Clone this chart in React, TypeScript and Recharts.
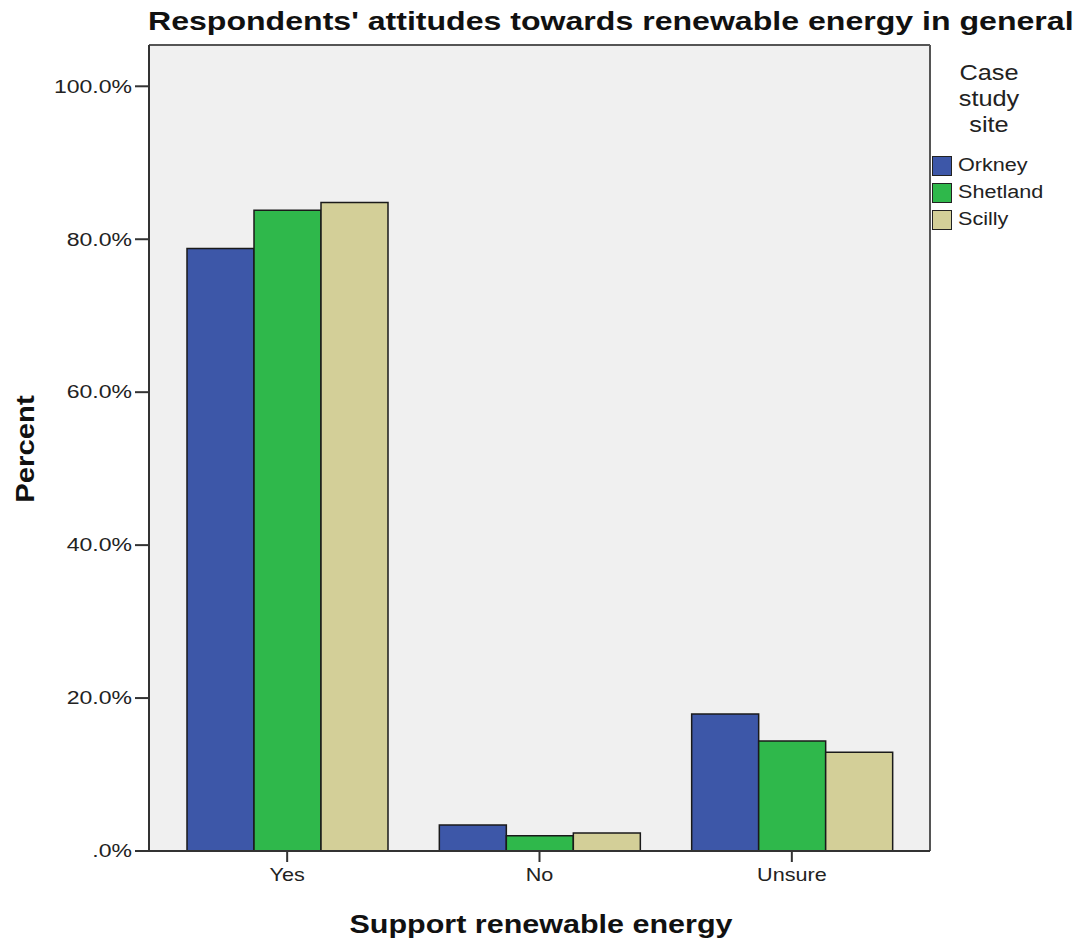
import React from "react";
import { BarChart, Bar, XAxis, YAxis, CartesianGrid } from "recharts";

const categories = ["Yes", "No", "Unsure"];
const orkney = [78.8, 3.4, 17.9];
const shetland = [83.8, 2.0, 14.4];
const scilly = [84.8, 2.35, 12.9];
const yTicks = [0, 20, 40, 60, 80, 100];

const SERIES = [
  { key: "Orkney", color: "#3d57a8" },
  { key: "Shetland", color: "#2fb84b" },
  { key: "Scilly", color: "#d3cf98" },
];

const data = categories.map((name, i) => ({
  name,
  Orkney: orkney[i],
  Shetland: shetland[i],
  Scilly: scilly[i],
}));

const FONT = "'Liberation Sans', Arial, sans-serif";

function fmtPct(v: number) {
  return v === 0 ? ".0%" : `${v.toFixed(1)}%`;
}

// frame lines along the top and right edge of the plot area
const topEdge = ({ offset }: any) => [offset.top];
const rightEdge = ({ offset }: any) => [offset.left + offset.width];

// the original's glyphs are stretched sideways, so widen them a bit
const YTick = ({ x, y, payload }: any) => (
  <text
    transform={`translate(${x - 1},${y}) scale(1.28,1)`}
    textAnchor="end"
    dy="0.35em"
    fill="#222"
    fontSize={18}
    fontFamily={FONT}
  >
    {fmtPct(payload.value)}
  </text>
);

const XTick = ({ x, y, payload }: any) => (
  <text
    transform={`translate(${x},${y + 4}) scale(1.2,1)`}
    textAnchor="middle"
    dy="0.71em"
    fill="#222"
    fontSize={18}
    fontFamily={FONT}
  >
    {payload.value}
  </text>
);

const stretch = (sx: number): React.CSSProperties => ({
  display: "inline-block",
  transform: `scaleX(${sx})`,
  transformOrigin: "left center",
});

function LegendBox() {
  return (
    <div style={{ fontFamily: FONT, color: "#222" }}>
      <div
        style={{
          fontSize: 22,
          lineHeight: "26px",
          textAlign: "center",
          width: 114,
          transform: "scaleX(1.15)",
          transformOrigin: "center center",
        }}
      >
        Case
        <br />
        study
        <br />
        site
      </div>
      <div style={{ marginTop: 14 }}>
        {SERIES.map((s) => (
          <div
            key={s.key}
            style={{ display: "flex", alignItems: "center", height: 27 }}
          >
            <div
              style={{
                width: 18,
                height: 18,
                background: s.color,
                border: "1.5px solid #222",
                marginRight: 6,
              }}
            />
            <span style={{ fontSize: 18, ...stretch(1.2) }}>{s.key}</span>
          </div>
        ))}
      </div>
    </div>
  );
}

export default function App() {
  return (
    <div
      style={{
        position: "absolute",
        left: 0,
        top: 0,
        width: 1086,
        height: 941,
        background: "#fff",
        fontFamily: FONT,
      }}
    >
      <div
        style={{
          position: "absolute",
          left: 148,
          top: 7,
          fontSize: 25,
          fontWeight: "bold",
          color: "#111",
          whiteSpace: "nowrap",
          transform: "scaleX(1.283)",
          transformOrigin: "left center",
        }}
      >
        Respondents' attitudes towards renewable energy in general
      </div>
      <div
        style={{
          position: "absolute",
          left: 25,
          top: 449,
          transform: "translate(-50%, -50%) rotate(-90deg) scaleX(1.17)",
          fontSize: 25,
          fontWeight: "bold",
          color: "#111",
        }}
      >
        Percent
      </div>
      <div
        style={{
          position: "absolute",
          left: 541,
          top: 924,
          transform: "translate(-50%, -50%) scaleX(1.22)",
          fontSize: 25,
          fontWeight: "bold",
          color: "#111",
          whiteSpace: "nowrap",
        }}
      >
        Support renewable energy
      </div>
      <div style={{ position: "absolute", left: 932, top: 60 }}>
        <LegendBox />
      </div>
      <div style={{ position: "absolute", left: 0, top: 0 }}>
        <BarChart
          width={1086}
          height={941}
          data={data}
          margin={{ top: 45, right: 156, bottom: 50, left: 69 }}
          barCategoryGap={26}
          barGap={0}
        >
          <CartesianGrid
            fill="#f0f0f0"
            stroke="#555"
            strokeWidth={2}
            strokeDasharray=""
            horizontalCoordinatesGenerator={topEdge}
            verticalCoordinatesGenerator={rightEdge}
          />
          <XAxis
            dataKey="name"
            height={40}
            padding={{ left: 12, right: 12 }}
            axisLine={{ stroke: "#333", strokeWidth: 2 }}
            tickLine={{ stroke: "#333", strokeWidth: 2 }}
            tickSize={11}
            tick={XTick}
          />
          <YAxis
            width={80}
            domain={[0, 105.4]}
            ticks={yTicks}
            axisLine={{ stroke: "#333", strokeWidth: 2 }}
            tickLine={{ stroke: "#333", strokeWidth: 2 }}
            tickSize={14}
            tick={YTick}
          />
          {SERIES.map((s) => (
            <Bar
              key={s.key}
              dataKey={s.key}
              fill={s.color}
              stroke="#1a1a1a"
              strokeWidth={1.5}
              isAnimationActive={false}
            />
          ))}
        </BarChart>
      </div>
    </div>
  );
}
